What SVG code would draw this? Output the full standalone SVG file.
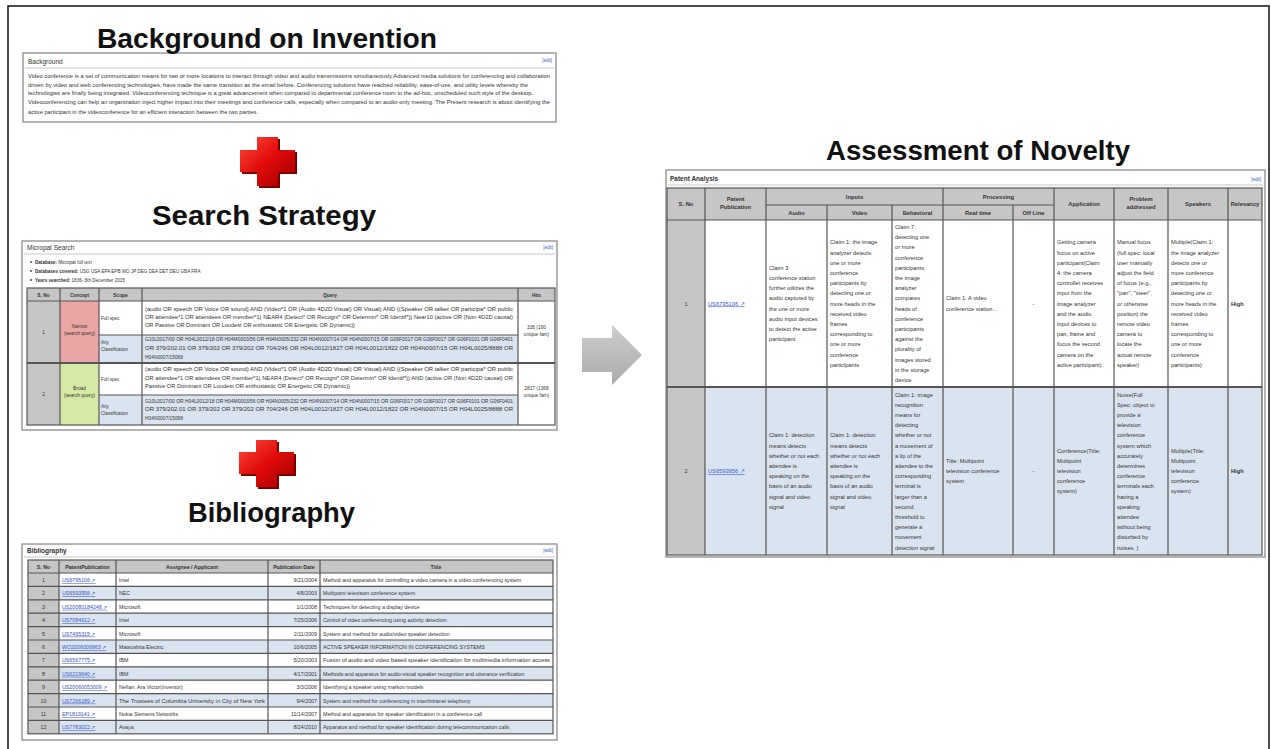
<svg xmlns="http://www.w3.org/2000/svg" width="1271" height="749" viewBox="0 0 1271 749">
<defs>
<style>
text{font-family:"Liberation Sans",Arial,sans-serif;fill:#333}
.title{font-size:28px;font-weight:bold;fill:#111}
.box{fill:#fff;stroke:#9a9a9a;stroke-width:1.5}
.hl{stroke:#c8c8c8;stroke-width:1}
.cap{font-size:6.5px;fill:#333}
.capb{font-size:6.5px;font-weight:bold;fill:#333}
.edit{font-size:4.5px;fill:#3355cc;text-anchor:end}
.bg{font-size:5px}
.s{font-size:4.6px}
.sb{font-size:4.6px;font-weight:bold}
.sc{font-size:4.8px;text-anchor:middle}
.sh{font-size:4.8px;font-weight:bold;text-anchor:middle}
.b{font-size:5.3px}
.bc{font-size:5.3px;text-anchor:middle}
.be{font-size:5.3px;text-anchor:end}
.bh{font-size:5.3px;font-weight:bold;text-anchor:middle}
.lk{fill:#3355cc;text-decoration:underline}
.p{font-size:5.7px}
.pc{font-size:5.7px;text-anchor:middle}
.ph{font-size:5.8px;font-weight:bold;text-anchor:middle}
.grid{stroke:#555;stroke-width:1.2;fill:none}
.white{fill:#fff}
.blue{fill:#dae4f1}
.gray{fill:#c6c6c6}
</style>
<linearGradient id="red" x1="0" y1="0" x2="1" y2="1">
<stop offset="0" stop-color="#ff4a3a"/>
<stop offset="0.5" stop-color="#e00a0a"/>
<stop offset="1" stop-color="#a00000"/>
</linearGradient>
<linearGradient id="arr" x1="0" y1="0" x2="0" y2="1">
<stop offset="0" stop-color="#cdcdcd"/>
<stop offset="1" stop-color="#ababab"/>
</linearGradient>
</defs>
<rect x="0" y="0" width="1271" height="749" fill="#fff"/>
<rect x="8" y="6" width="1261" height="760" fill="none" stroke="#111" stroke-width="1.5"/>

<!-- Connectors -->
<g id="connectors">
<g id="cross1">
<path d="M259,139 h21 v13 h17 v22 h-17 v14 h-21 v-14 h-17 v-22 h17 z" fill="#7a0000"/>
<path d="M257,137 h21 v13 h17 v22 h-17 v14 h-21 v-14 h-17 v-22 h17 z" fill="url(#red)"/>
</g>
<g id="cross2">
<path d="M258,442 h21 v12 h17 v22 h-17 v13 h-21 v-13 h-17 v-22 h17 z" fill="#7a0000"/>
<path d="M256,440 h21 v12 h17 v22 h-17 v13 h-21 v-13 h-17 v-22 h17 z" fill="url(#red)"/>
</g>
<path id="arrow" d="M582,338 H612 V325 L642,355 L612,385 V372 H582 Z" fill="url(#arr)"/>
</g>

<!-- Background box -->
<g id="background">
<rect class="box" x="23" y="53" width="533" height="69"/>
<line class="hl" x1="25" y1="68" x2="554" y2="68"/>
<text class="cap" x="28" y="64">Background</text>
<text class="edit" x="552" y="62">[edit]</text>
<text class="bg" x="28" y="78" textLength="522" lengthAdjust="spacingAndGlyphs">Video conference is a set of communication means for two or more locations to interact through video and audio transmissions simultaneously.Advanced media solutions for conferencing and collaboration</text>
<text class="bg" x="28" y="86.5" textLength="500" lengthAdjust="spacingAndGlyphs">driven by video and web conferencing technologies, have made the same transition as the email before. Conferencing solutions have reached reliability, ease-of-use, and utility levels whereby the</text>
<text class="bg" x="28" y="95" textLength="505" lengthAdjust="spacingAndGlyphs">technologies are finally being integrated. Videoconferencing technique is a great advancement when compared to departmental conference room to the ad-hoc, unscheduled such style of the desktop.</text>
<text class="bg" x="28" y="103.5" textLength="522" lengthAdjust="spacingAndGlyphs">Videoconferencing can help an organization inject higher impact into their meetings and conference calls, especially when compared to an audio-only meeting. The Present research is about identifying the</text>
<text class="bg" x="28" y="114" textLength="230" lengthAdjust="spacingAndGlyphs">active participant in the videoconference for an efficient interaction between the two parties.</text>
</g>

<!-- Search strategy box -->
<g id="search">
<rect class="box" x="22" y="241" width="535" height="189"/>
<line class="hl" x1="24" y1="254" x2="555" y2="254"/>
<text class="cap" x="27" y="250">Micropat Search</text>
<text class="edit" x="553" y="249">[edit]</text>
<circle cx="31" cy="262" r="0.9" fill="#333"/>
<circle cx="31" cy="271" r="0.9" fill="#333"/>
<circle cx="31" cy="280" r="0.9" fill="#333"/>
<text class="s" x="35" y="264"><tspan class="sb">Database:</tspan> Micropat full text</text>
<text class="s" x="35" y="273"><tspan class="sb">Databases covered:</tspan> USG USA EPA EPB WO JP DEG DEA DET DEU GBA FRA</text>
<text class="s" x="35" y="282"><tspan class="sb">Years searched:</tspan> 1836- 8th December 2015</text>
<rect class="gray" x="27" y="288" width="528" height="13"/>
<rect class="gray" x="27" y="301" width="33" height="124"/>
<rect x="60" y="301" width="39" height="62" fill="#eaa5a5"/>
<rect x="60" y="363" width="39" height="62" fill="#d5e8a6"/>
<rect class="white" x="99" y="301" width="419" height="34"/>
<rect class="blue" x="99" y="335" width="419" height="28"/>
<rect class="white" x="99" y="363" width="419" height="32"/>
<rect class="blue" x="99" y="395" width="419" height="30"/>
<rect class="white" x="518" y="301" width="37" height="124"/>
<g class="grid">
<rect x="27" y="288" width="528" height="137"/>
<line x1="27" y1="301" x2="555" y2="301"/>
<line x1="27" y1="363" x2="555" y2="363" stroke-width="1.8"/>
<line x1="99" y1="335" x2="518" y2="335"/>
<line x1="99" y1="395" x2="518" y2="395"/>
<line x1="60" y1="288" x2="60" y2="425"/>
<line x1="99" y1="288" x2="99" y2="425"/>
<line x1="142" y1="288" x2="142" y2="425"/>
<line x1="518" y1="288" x2="518" y2="425"/>
</g>
<text class="sh" x="43.5" y="297">S. No</text>
<text class="sh" x="79.5" y="297">Concept</text>
<text class="sh" x="120.5" y="297">Scope</text>
<text class="sh" x="330" y="297">Query</text>
<text class="sh" x="536.5" y="297">Hits</text>
<text class="sc" x="43.5" y="334">1</text>
<text class="sc" x="43.5" y="396">2</text>
<text class="sc" x="79.5" y="328">Narrow</text>
<text class="sc" x="79.5" y="335">(search query)</text>
<text class="sc" x="79.5" y="390">Broad</text>
<text class="sc" x="79.5" y="397">(search query)</text>
<text class="s" x="101" y="320">Full spec</text>
<text class="s" x="101" y="344">Any</text>
<text class="s" x="101" y="351">Classification</text>
<text class="s" x="101" y="381">Full spec</text>
<text class="s" x="101" y="408">Any</text>
<text class="s" x="101" y="415">Classification</text>
<text class="s" x="145" y="311" textLength="368" lengthAdjust="spacingAndGlyphs">(audio OR speech OR Voice OR sound) AND (Video*1 OR (Audio 4D2D Visual) OR Visual) AND ((Speaker OR talker OR participa* OR public</text>
<text class="s" x="145" y="319" textLength="368" lengthAdjust="spacingAndGlyphs">OR attendee*1 OR attendees OR member*1) NEAR4 (Detect* OR Recogni* OR Determin* OR Identif*)) Near10 (active OR (Non 4D2D causal)</text>
<text class="s" x="145" y="327" textLength="210" lengthAdjust="spacingAndGlyphs">OR Passive OR Dominant OR Loudest OR enthusiastic OR Energetic OR Dynamic))</text>
<text class="s" x="145" y="341" textLength="368" lengthAdjust="spacingAndGlyphs">G10L0017/00 OR H04L0012/18 OR H04M0003/56 OR H04N0005/232 OR H04N0007/14 OR H04N0007/15 OR G06F0017 OR G06F0017 OR G06F0101 OR G06F0401</text>
<text class="s" x="145" y="350" textLength="368" lengthAdjust="spacingAndGlyphs">OR 379/202.01 OR 379/202 OR 379/202 OR 704/246 OR H04L0012/1827 OR H04L0012/1822 OR H04N0007/15 OR H04L0025/8888 OR</text>
<text class="s" x="145" y="359" textLength="38" lengthAdjust="spacingAndGlyphs">H04N0007/15068</text>
<text class="s" x="145" y="371" textLength="368" lengthAdjust="spacingAndGlyphs">(audio OR speech OR Voice OR sound) AND (Video*1 OR (Audio 4D2D Visual) OR Visual) AND ((Speaker OR talker OR participa* OR public</text>
<text class="s" x="145" y="380" textLength="368" lengthAdjust="spacingAndGlyphs">OR attendee*1 OR attendees OR member*1) NEAR4 (Detect* OR Recogni* OR Determin* OR Identif*)) AND (active OR (Non 4D2D causal) OR</text>
<text class="s" x="145" y="388" textLength="205" lengthAdjust="spacingAndGlyphs">Passive OR Dominant OR Loudest OR enthusiastic OR Energetic OR Dynamic))</text>
<text class="s" x="145" y="403" textLength="368" lengthAdjust="spacingAndGlyphs">G10L0017/00 OR H04L0012/18 OR H04M0003/56 OR H04N0005/232 OR H04N0007/14 OR H04N0007/15 OR G06F0017 OR G06F0017 OR G06F0101 OR G06F0401</text>
<text class="s" x="145" y="411" textLength="368" lengthAdjust="spacingAndGlyphs">OR 379/202.01 OR 379/202 OR 379/202 OR 704/246 OR H04L0012/1827 OR H04L0012/1822 OR H04N0007/15 OR H04L0025/8888 OR</text>
<text class="s" x="145" y="420" textLength="38" lengthAdjust="spacingAndGlyphs">H04N0007/15068</text>
<text class="sc" x="536.5" y="329">336 (160</text>
<text class="sc" x="536.5" y="336">unique fam)</text>
<text class="sc" x="536.5" y="390">2817 (1368</text>
<text class="sc" x="536.5" y="397">unique fam)</text>
</g>

<!-- Bibliography box -->
<g id="bibliography">
<rect class="box" x="22" y="544" width="535" height="196"/>
<line class="hl" x1="24" y1="557" x2="555" y2="557"/>
<text class="capb" x="27" y="553">Bibliography</text>
<text class="edit" x="553" y="552">[edit]</text>
<rect class="gray" x="28" y="560" width="525" height="13"/>
<rect class="gray" x="28" y="573" width="31" height="161"/>
<rect class="white" x="59" y="573" width="494" height="13.4"/>
<rect class="blue" x="59" y="586.4" width="494" height="13.4"/>
<rect class="white" x="59" y="599.8" width="494" height="13.4"/>
<rect class="blue" x="59" y="613.2" width="494" height="13.4"/>
<rect class="white" x="59" y="626.6" width="494" height="13.4"/>
<rect class="blue" x="59" y="640" width="494" height="13.4"/>
<rect class="white" x="59" y="653.4" width="494" height="13.4"/>
<rect class="blue" x="59" y="666.8" width="494" height="13.4"/>
<rect class="white" x="59" y="680.2" width="494" height="13.4"/>
<rect class="blue" x="59" y="693.6" width="494" height="13.4"/>
<rect class="white" x="59" y="707" width="494" height="13.4"/>
<rect class="blue" x="59" y="720.4" width="494" height="13.4"/>
<g class="grid">
<rect x="28" y="560" width="525" height="173.8"/>
<line x1="28" y1="573" x2="553" y2="573"/>
<line x1="28" y1="586.4" x2="553" y2="586.4"/>
<line x1="28" y1="599.8" x2="553" y2="599.8"/>
<line x1="28" y1="613.2" x2="553" y2="613.2"/>
<line x1="28" y1="626.6" x2="553" y2="626.6"/>
<line x1="28" y1="640" x2="553" y2="640"/>
<line x1="28" y1="653.4" x2="553" y2="653.4"/>
<line x1="28" y1="666.8" x2="553" y2="666.8"/>
<line x1="28" y1="680.2" x2="553" y2="680.2"/>
<line x1="28" y1="693.6" x2="553" y2="693.6"/>
<line x1="28" y1="707" x2="553" y2="707"/>
<line x1="28" y1="720.4" x2="553" y2="720.4"/>
<line x1="59" y1="560" x2="59" y2="733.8"/>
<line x1="116" y1="560" x2="116" y2="733.8"/>
<line x1="268" y1="560" x2="268" y2="733.8"/>
<line x1="320" y1="560" x2="320" y2="733.8"/>
</g>
<text class="bh" x="43.5" y="569">S. No</text>
<text class="bh" x="87.5" y="569">PatentPublication</text>
<text class="bh" x="192" y="569">Assignee / Applicant</text>
<text class="bh" x="294" y="569">Publication Date</text>
<text class="bh" x="436" y="569">Title</text>
<g class="bc">
<text x="43.5" y="582">1</text><text x="43.5" y="595.4">2</text><text x="43.5" y="608.8">3</text><text x="43.5" y="622.2">4</text>
<text x="43.5" y="635.6">5</text><text x="43.5" y="649">6</text><text x="43.5" y="662.4">7</text><text x="43.5" y="675.8">8</text>
<text x="43.5" y="689.2">9</text><text x="43.5" y="702.6">10</text><text x="43.5" y="716">11</text><text x="43.5" y="729.4">12</text>
</g>
<g class="b">
<text x="62" y="582" class="lk">US6795106 ↗</text>
<text x="62" y="595.4" class="lk">US6593956 ↗</text>
<text x="62" y="608.8" class="lk">US20080184248 ↗</text>
<text x="62" y="622.2" class="lk">US7084612 ↗</text>
<text x="62" y="635.6" class="lk">US7495315 ↗</text>
<text x="62" y="649" class="lk">WO2006009963 ↗</text>
<text x="62" y="662.4" class="lk">US6567775 ↗</text>
<text x="62" y="675.8" class="lk">US6219640 ↗</text>
<text x="62" y="689.2" class="lk">US20060053009 ↗</text>
<text x="62" y="702.6" class="lk">US7266189 ↗</text>
<text x="62" y="716" class="lk">EP1819141 ↗</text>
<text x="62" y="729.4" class="lk">US7783022 ↗</text>
</g>
<g class="b">
<text x="119" y="582">Intel</text>
<text x="119" y="595.4">NEC</text>
<text x="119" y="608.8">Microsoft</text>
<text x="119" y="622.2">Intel</text>
<text x="119" y="635.6">Microsoft</text>
<text x="119" y="649">Matsushita Electric</text>
<text x="119" y="662.4">IBM</text>
<text x="119" y="675.8">IBM</text>
<text x="119" y="689.2">Nefian, Ara Victor(Inventor)</text>
<text x="119" y="702.6" textLength="146" lengthAdjust="spacingAndGlyphs">The Trustees of Columbia University in City of New York</text>
<text x="119" y="716">Nokia Siemens Networks</text>
<text x="119" y="729.4">Avaya</text>
</g>
<g class="be">
<text x="317" y="582">9/21/2004</text>
<text x="317" y="595.4">4/8/2003</text>
<text x="317" y="608.8">1/1/2008</text>
<text x="317" y="622.2">7/25/2006</text>
<text x="317" y="635.6">2/11/2009</text>
<text x="317" y="649">10/6/2005</text>
<text x="317" y="662.4">5/20/2003</text>
<text x="317" y="675.8">4/17/2001</text>
<text x="317" y="689.2">3/3/2006</text>
<text x="317" y="702.6">9/4/2007</text>
<text x="317" y="716">11/14/2007</text>
<text x="317" y="729.4">8/24/2010</text>
</g>
<g class="b">
<text x="323" y="582">Method and apparatus for controlling a video camera in a video conferencing system</text>
<text x="323" y="595.4">Multipoint television conference system</text>
<text x="323" y="608.8">Techniques for detecting a display device</text>
<text x="323" y="622.2">Control of video conferencing using activity detection</text>
<text x="323" y="635.6">System and method for audio/video speaker detection</text>
<text x="323" y="649">ACTIVE SPEAKER INFORMATION IN CONFERENCING SYSTEMS</text>
<text x="323" y="662.4" textLength="227" lengthAdjust="spacingAndGlyphs">Fusion of audio and video based speaker identification for multimedia information access</text>
<text x="323" y="675.8">Methods and apparatus for audio-visual speaker recognition and utterance verification</text>
<text x="323" y="689.2">Identifying a speaker using markov models</text>
<text x="323" y="702.6">System and method for conferencing in inter/intranet telephony</text>
<text x="323" y="716">Method and apparatus for speaker identification in a conference call</text>
<text x="323" y="729.4">Apparatus and method for speaker identification during telecommunication calls</text>
</g>
</g>

<!-- Patent analysis box -->
<g id="patent-analysis">
<rect class="box" x="666" y="170" width="599" height="387"/>
<line class="hl" x1="668" y1="185" x2="1263" y2="185"/>
<text class="capb" x="670" y="181">Patent Analysis</text>
<text class="edit" x="1261" y="181">[edit]</text>
<rect class="gray" x="667" y="188" width="595" height="32"/>
<rect class="gray" x="667" y="220" width="38" height="335"/>
<rect class="white" x="705" y="220" width="557" height="167"/>
<rect class="blue" x="705" y="387" width="557" height="168"/>
<g class="grid">
<rect x="667" y="188" width="595" height="367"/>
<line x1="766" y1="205" x2="1054" y2="205"/>
<line x1="667" y1="220" x2="1262" y2="220"/>
<line x1="667" y1="387" x2="1262" y2="387" stroke-width="1.8"/>
<line x1="705" y1="188" x2="705" y2="555"/>
<line x1="766" y1="188" x2="766" y2="555"/>
<line x1="827" y1="205" x2="827" y2="555"/>
<line x1="892" y1="205" x2="892" y2="555"/>
<line x1="943" y1="188" x2="943" y2="555"/>
<line x1="1013" y1="205" x2="1013" y2="555"/>
<line x1="1054" y1="188" x2="1054" y2="555"/>
<line x1="1114" y1="188" x2="1114" y2="555"/>
<line x1="1168" y1="188" x2="1168" y2="555"/>
<line x1="1228" y1="188" x2="1228" y2="555"/>
</g>
<text class="ph" x="686" y="206">S. No</text>
<text class="ph" x="735.5" y="201">Patent</text>
<text class="ph" x="735.5" y="209">Publication</text>
<text class="ph" x="854.5" y="199">Inputs</text>
<text class="ph" x="796.5" y="215">Audio</text>
<text class="ph" x="859.5" y="215">Video</text>
<text class="ph" x="917.5" y="215">Behavioral</text>
<text class="ph" x="998.5" y="199">Processing</text>
<text class="ph" x="978" y="215">Real time</text>
<text class="ph" x="1033.5" y="215">Off Line</text>
<text class="ph" x="1084" y="206">Application</text>
<text class="ph" x="1141" y="201">Problem</text>
<text class="ph" x="1141" y="209">addressed</text>
<text class="ph" x="1198" y="206">Speakers</text>
<text class="ph" x="1245" y="206">Relevancy</text>

<text class="pc" x="686" y="305.5">1</text>
<text class="pc" x="686" y="473">2</text>
<text class="p lk" x="708" y="305.5">US6795106 ↗</text>
<text class="p lk" x="708" y="473">US6593956 ↗</text>

<text class="p" x="769" y="269.8"><tspan x="769">Claim 3:</tspan><tspan x="769" dy="10.2">conference station</tspan><tspan x="769" dy="10.2">further utilizes the</tspan><tspan x="769" dy="10.2">audio captured by</tspan><tspan x="769" dy="10.2">the one or more</tspan><tspan x="769" dy="10.2">audio input devices</tspan><tspan x="769" dy="10.2">to detect the active</tspan><tspan x="769" dy="10.2">participant</tspan></text>
<text class="p" x="830" y="244.3"><tspan x="830">Claim 1: the image</tspan><tspan x="830" dy="10.2">analyzer detects</tspan><tspan x="830" dy="10.2">one or more</tspan><tspan x="830" dy="10.2">conference</tspan><tspan x="830" dy="10.2">participants by</tspan><tspan x="830" dy="10.2">detecting one or</tspan><tspan x="830" dy="10.2">more heads in the</tspan><tspan x="830" dy="10.2">received video</tspan><tspan x="830" dy="10.2">frames</tspan><tspan x="830" dy="10.2">corresponding to</tspan><tspan x="830" dy="10.2">one or more</tspan><tspan x="830" dy="10.2">conference</tspan><tspan x="830" dy="10.2">participants</tspan></text>
<text class="p" x="895" y="229"><tspan x="895">Claim 7:</tspan><tspan x="895" dy="10.2">detecting one</tspan><tspan x="895" dy="10.2">or more</tspan><tspan x="895" dy="10.2">conference</tspan><tspan x="895" dy="10.2">participants,</tspan><tspan x="895" dy="10.2">the image</tspan><tspan x="895" dy="10.2">analyzer</tspan><tspan x="895" dy="10.2">compares</tspan><tspan x="895" dy="10.2">heads of</tspan><tspan x="895" dy="10.2">conference</tspan><tspan x="895" dy="10.2">participants</tspan><tspan x="895" dy="10.2">against the</tspan><tspan x="895" dy="10.2">plurality of</tspan><tspan x="895" dy="10.2">images stored</tspan><tspan x="895" dy="10.2">in the storage</tspan><tspan x="895" dy="10.2">device</tspan></text>
<text class="p" x="946" y="300.4"><tspan x="946">Claim 1: A video</tspan><tspan x="946" dy="10.2">conference station...</tspan></text>
<text class="pc" x="1033.5" y="305.5">-</text>
<text class="p" x="1057" y="244.3"><tspan x="1057">Getting camera</tspan><tspan x="1057" dy="10.2">focus on active</tspan><tspan x="1057" dy="10.2">participant(Claim</tspan><tspan x="1057" dy="10.2">4: the camera</tspan><tspan x="1057" dy="10.2">controller receives</tspan><tspan x="1057" dy="10.2">input from the</tspan><tspan x="1057" dy="10.2">image analyzer</tspan><tspan x="1057" dy="10.2">and the audio</tspan><tspan x="1057" dy="10.2">input devices to</tspan><tspan x="1057" dy="10.2">pan, frame and</tspan><tspan x="1057" dy="10.2">focus the second</tspan><tspan x="1057" dy="10.2">camera on the</tspan><tspan x="1057" dy="10.2">active participant)</tspan></text>
<text class="p" x="1117" y="244.3"><tspan x="1117">Manual focus</tspan><tspan x="1117" dy="10.2">(full spec: local</tspan><tspan x="1117" dy="10.2">user manually</tspan><tspan x="1117" dy="10.2">adjust the field</tspan><tspan x="1117" dy="10.2">of focus (e.g.,</tspan><tspan x="1117" dy="10.2">"pan", "steer",</tspan><tspan x="1117" dy="10.2">or otherwise</tspan><tspan x="1117" dy="10.2">position) the</tspan><tspan x="1117" dy="10.2">remote video</tspan><tspan x="1117" dy="10.2">camera to</tspan><tspan x="1117" dy="10.2">locate the</tspan><tspan x="1117" dy="10.2">actual remote</tspan><tspan x="1117" dy="10.2">speaker)</tspan></text>
<text class="p" x="1171" y="244.3"><tspan x="1171">Multiple(Claim 1:</tspan><tspan x="1171" dy="10.2">the image analyzer</tspan><tspan x="1171" dy="10.2">detects one or</tspan><tspan x="1171" dy="10.2">more conference</tspan><tspan x="1171" dy="10.2">participants by</tspan><tspan x="1171" dy="10.2">detecting one or</tspan><tspan x="1171" dy="10.2">more heads in the</tspan><tspan x="1171" dy="10.2">received video</tspan><tspan x="1171" dy="10.2">frames</tspan><tspan x="1171" dy="10.2">corresponding to</tspan><tspan x="1171" dy="10.2">one or more</tspan><tspan x="1171" dy="10.2">conference</tspan><tspan x="1171" dy="10.2">participants)</tspan></text>
<text class="p" x="1231" y="305.5" font-weight="bold">High</text>

<text class="p" x="769" y="437.3"><tspan x="769">Claim 1: detection</tspan><tspan x="769" dy="10.2">means detects</tspan><tspan x="769" dy="10.2">whether or not each</tspan><tspan x="769" dy="10.2">attendee is</tspan><tspan x="769" dy="10.2">speaking on the</tspan><tspan x="769" dy="10.2">basis of an audio</tspan><tspan x="769" dy="10.2">signal and video</tspan><tspan x="769" dy="10.2">signal</tspan></text>
<text class="p" x="830" y="437.3"><tspan x="830">Claim 1: detection</tspan><tspan x="830" dy="10.2">means detects</tspan><tspan x="830" dy="10.2">whether or not each</tspan><tspan x="830" dy="10.2">attendee is</tspan><tspan x="830" dy="10.2">speaking on the</tspan><tspan x="830" dy="10.2">basis of an audio</tspan><tspan x="830" dy="10.2">signal and video</tspan><tspan x="830" dy="10.2">signal</tspan></text>
<text class="p" x="895" y="396.5"><tspan x="895">Claim 1: image</tspan><tspan x="895" dy="10.2">recognition</tspan><tspan x="895" dy="10.2">means for</tspan><tspan x="895" dy="10.2">detecting</tspan><tspan x="895" dy="10.2">whether or not</tspan><tspan x="895" dy="10.2">a movement of</tspan><tspan x="895" dy="10.2">a lip of the</tspan><tspan x="895" dy="10.2">attendee to the</tspan><tspan x="895" dy="10.2">corresponding</tspan><tspan x="895" dy="10.2">terminal is</tspan><tspan x="895" dy="10.2">larger than a</tspan><tspan x="895" dy="10.2">second</tspan><tspan x="895" dy="10.2">threshold to</tspan><tspan x="895" dy="10.2">generate a</tspan><tspan x="895" dy="10.2">movement</tspan><tspan x="895" dy="10.2">detection signal</tspan></text>
<text class="p" x="946" y="462.8"><tspan x="946">Title: Multipoint</tspan><tspan x="946" dy="10.2">television conference</tspan><tspan x="946" dy="10.2">system</tspan></text>
<text class="pc" x="1033.5" y="473">-</text>
<text class="p" x="1057" y="452.6"><tspan x="1057">Conference(Title:</tspan><tspan x="1057" dy="10.2">Multipoint</tspan><tspan x="1057" dy="10.2">television</tspan><tspan x="1057" dy="10.2">conference</tspan><tspan x="1057" dy="10.2">system)</tspan></text>
<text class="p" x="1117" y="396.5"><tspan x="1117">Noise(Full</tspan><tspan x="1117" dy="10.2">Spec: object to</tspan><tspan x="1117" dy="10.2">provide a</tspan><tspan x="1117" dy="10.2">television</tspan><tspan x="1117" dy="10.2">conference</tspan><tspan x="1117" dy="10.2">system which</tspan><tspan x="1117" dy="10.2">accurately</tspan><tspan x="1117" dy="10.2">determines</tspan><tspan x="1117" dy="10.2">conference</tspan><tspan x="1117" dy="10.2">terminals each</tspan><tspan x="1117" dy="10.2">having a</tspan><tspan x="1117" dy="10.2">speaking</tspan><tspan x="1117" dy="10.2">attendee</tspan><tspan x="1117" dy="10.2">without being</tspan><tspan x="1117" dy="10.2">disturbed by</tspan><tspan x="1117" dy="10.2">noises. )</tspan></text>
<text class="p" x="1171" y="452.6"><tspan x="1171">Multiple(Title:</tspan><tspan x="1171" dy="10.2">Multipoint</tspan><tspan x="1171" dy="10.2">television</tspan><tspan x="1171" dy="10.2">conference</tspan><tspan x="1171" dy="10.2">system)</tspan></text>
<text class="p" x="1231" y="473" font-weight="bold">High</text>
</g>

<!-- Titles -->
<g id="titles">
<text class="title" x="97" y="48" textLength="340" lengthAdjust="spacingAndGlyphs">Background on Invention</text>
<text class="title" x="152" y="225" textLength="224" lengthAdjust="spacingAndGlyphs">Search Strategy</text>
<text class="title" x="188" y="522" textLength="167" lengthAdjust="spacingAndGlyphs">Bibliography</text>
<text class="title" x="826" y="160" textLength="304" lengthAdjust="spacingAndGlyphs">Assessment of Novelty</text>
</g>
</svg>
